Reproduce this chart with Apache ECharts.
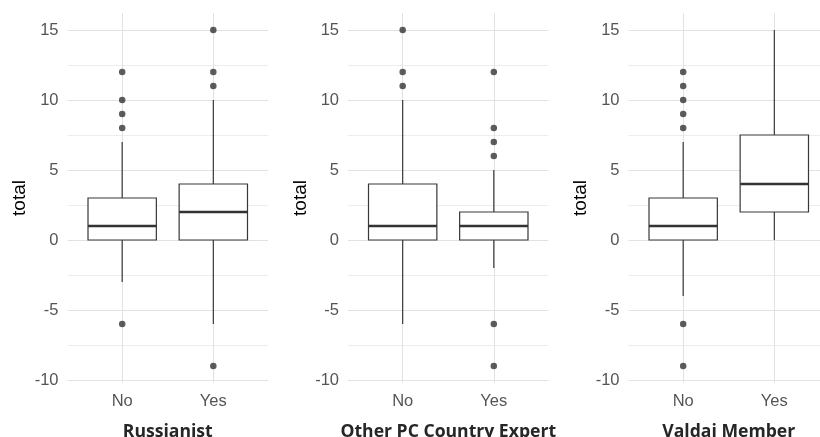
<!DOCTYPE html>
<html>
<head>
<meta charset="utf-8">
<script src="https://cdn.jsdelivr.net/npm/echarts@6/dist/echarts.min.js"></script>
<style>html,body{margin:0;padding:0;background:#fff;}#c{width:820px;height:437px;}</style>
</head>
<body>
<div id="c"></div>
<script>
const categories = ['No', 'Yes'];
const panelTitles = ['Russianist', 'Other PC Country Expert', 'Valdai Member'];
// box stats per category: [lower whisker, Q1, median, Q3, upper whisker]
const russianistBox = [[-3, 0, 1, 3, 7], [-6, 0, 2, 4, 10]];
const russianistOutliers = [[12, 10, 9, 8, -6], [15, 12, 11, -9]];
const otherPCBox = [[-6, 0, 1, 4, 10], [-2, 0, 1, 2, 5]];
const otherPCOutliers = [[15, 12, 11], [12, 8, 7, 6, -6, -9]];
const valdaiBox = [[-4, 0, 1, 3, 7], [0, 2, 4, 7.5, 15]];
const valdaiOutliers = [[12, 11, 10, 9, 8, -6, -9], []];
const yTicks = [-10, -5, 0, 5, 10, 15];
const yGridValues = [-10, -7.5, -5, -2.5, 0, 2.5, 5, 7.5, 10, 12.5, 15];

const boxes = [russianistBox, otherPCBox, valdaiBox];
const outliers = [russianistOutliers, otherPCOutliers, valdaiOutliers];
const gridLefts = [67.5, 348, 628.5];
const gridWidth = 200.5;

const chart = echarts.init(document.getElementById('c'), null, {renderer: 'canvas'});

const grids = [], xAxes = [], yAxes = [], series = [];
for (let i = 0; i < 3; i++) {
  grids.push({left: gridLefts[i], width: gridWidth, top: 13.2, height: 369.6, containLabel: false, outerBoundsMode: 'none'});
  xAxes.push({
    type: 'value', gridIndex: i, min: 0.4, max: 2.6,
    name: panelTitles[i], nameLocation: 'middle', nameGap: 40,
    nameTextStyle: {fontFamily: 'Open Sans', fontWeight: 'bold', fontSize: 17.6, color: '#262626'},
    axisLine: {show: false},
    axisTick: {show: false, customValues: [1, 2]},
    axisLabel: {customValues: [1, 2], formatter: v => categories[Math.round(v) - 1], color: '#555', fontFamily: 'Liberation Sans', fontSize: 16.5, margin: 10},
    splitLine: {show: true, lineStyle: {color: '#e2e2e2', width: 1}}
  });
  yAxes.push({
    type: 'value', gridIndex: i, min: -10.2, max: 16.2,
    name: 'total', nameLocation: 'middle', nameGap: 38, nameRotate: 90,
    nameTextStyle: {fontFamily: 'Liberation Sans', fontSize: 19, color: '#000'},
    axisLine: {show: false},
    axisTick: {show: false, customValues: yGridValues},
    axisLabel: {customValues: yTicks, color: '#555', fontFamily: 'Liberation Sans', fontSize: 16.5, margin: 9},
    splitLine: {show: true, lineStyle: {color: ['#e2e2e2', '#ededed'], width: 1}}
  });
  const boxData = boxes[i].map((b, k) => [k + 1].concat(b));
  series.push({
    type: 'custom', xAxisIndex: i, yAxisIndex: i,
    data: boxData,
    encode: {x: 0, y: [1, 2, 3, 4, 5]},
    renderItem: function (params, api) {
      const x = api.value(0);
      const w = api.size([0.75, 0])[0];
      const pLo = api.coord([x, api.value(1)]);
      const pQ1 = api.coord([x, api.value(2)]);
      const pMed = api.coord([x, api.value(3)]);
      const pQ3 = api.coord([x, api.value(4)]);
      const pHi = api.coord([x, api.value(5)]);
      const st = {stroke: '#383838', lineWidth: 1.2};
      return {type: 'group', children: [
        {type: 'line', shape: {x1: pLo[0], y1: pLo[1], x2: pQ1[0], y2: pQ1[1]}, style: st},
        {type: 'line', shape: {x1: pQ3[0], y1: pQ3[1], x2: pHi[0], y2: pHi[1]}, style: st},
        {type: 'rect', shape: {x: pQ1[0] - w / 2, y: pQ3[1], width: w, height: pQ1[1] - pQ3[1]}, style: {fill: '#fff', stroke: '#383838', lineWidth: 1.2}},
        {type: 'line', shape: {x1: pMed[0] - w / 2, y1: pMed[1], x2: pMed[0] + w / 2, y2: pMed[1]}, style: {stroke: '#333', lineWidth: 2.5}}
      ]};
    },
    z: 2
  });
  const pts = [];
  outliers[i].forEach((arr, k) => arr.forEach(v => pts.push([k + 1, v])));
  series.push({
    type: 'scatter', xAxisIndex: i, yAxisIndex: i, data: pts,
    symbol: 'circle', symbolSize: 6.5, itemStyle: {color: '#333'}, z: 3, silent: true
  });
}

chart.setOption({
  animation: false,
  backgroundColor: '#fff',
  grid: grids, xAxis: xAxes, yAxis: yAxes, series: series
});
</script>
</body>
</html>
